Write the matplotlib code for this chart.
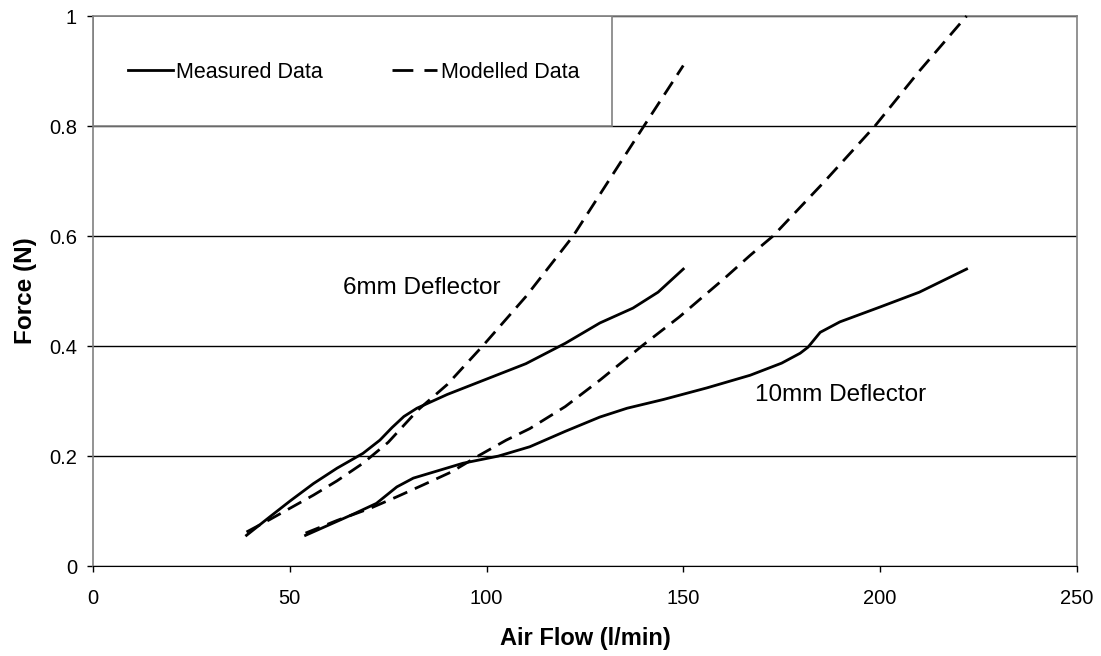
import matplotlib.pyplot as plt
from matplotlib.patches import Rectangle
from matplotlib.lines import Line2D

plt.rcParams['font.family'] = ['Liberation Sans', 'DejaVu Sans']

# 6mm deflector
x6_meas = [39, 45, 50, 56, 62, 68.6, 72.9, 76, 79, 82.3, 90, 100, 110, 120, 128.8, 137.2, 143.6, 150]
y6_meas = [0.056, 0.09, 0.118, 0.15, 0.178, 0.205, 0.229, 0.252, 0.272, 0.287, 0.312, 0.34, 0.368, 0.405, 0.442, 0.469, 0.498, 0.54]
x6_mod = [39, 45, 50, 56, 62, 68.6, 75, 82.6, 90, 99, 110, 122, 131, 140, 150]
y6_mod = [0.062, 0.085, 0.105, 0.129, 0.155, 0.187, 0.225, 0.284, 0.33, 0.4, 0.49, 0.6, 0.7, 0.8, 0.91]

# 10mm deflector
x10_meas = [54, 60, 66.6, 72, 77.2, 81.4, 87, 94, 103, 111, 120, 128.8, 135.7, 145, 156, 167, 175,
            179.7, 181.7, 184.8, 189.8, 200, 210, 222]
y10_meas = [0.056, 0.075, 0.096, 0.114, 0.144, 0.16, 0.172, 0.187, 0.2, 0.217, 0.245, 0.271, 0.287,
            0.303, 0.324, 0.347, 0.369, 0.387, 0.398, 0.425, 0.444, 0.471, 0.498, 0.54]
x10_mod = [54, 62, 70.4, 77.2, 84, 91, 98.3, 105, 111, 120, 128.8, 139.8, 149, 160.6, 167, 172.8,
           186, 198.7, 210, 222]
y10_mod = [0.06, 0.083, 0.105, 0.126, 0.148, 0.171, 0.202, 0.229, 0.25, 0.29, 0.338, 0.402, 0.453,
           0.524, 0.565, 0.6, 0.7, 0.8, 0.9, 1.0]

lw = 2.0
dash = (5.5, 3)

fig = plt.figure(figsize=(11.01, 6.56), dpi=100)
ax = fig.add_axes([0.0845, 0.137, 0.8935, 0.8386])

ax.plot(x6_meas, y6_meas, color='black', lw=lw, solid_joinstyle='round', clip_on=False, zorder=3)
ax.plot(x6_mod, y6_mod, color='black', lw=lw, dashes=dash, clip_on=False, zorder=3)
ax.plot(x10_meas, y10_meas, color='black', lw=lw, solid_joinstyle='round', clip_on=False, zorder=3)
ax.plot(x10_mod, y10_mod, color='black', lw=lw, dashes=dash, clip_on=False, zorder=3)

ax.set_xlim(0, 250)
ax.set_ylim(0, 1)
ax.set_xticks([0, 50, 100, 150, 200, 250])
ax.set_yticks([0, 0.2, 0.4, 0.6, 0.8, 1])
ax.set_yticklabels(['0', '0.2', '0.4', '0.6', '0.8', '1'])
ax.tick_params(labelsize=14.5, direction='out', length=4.5, width=1)
ax.tick_params(axis='x', pad=12)
ax.tick_params(axis='y', pad=7)
ax.yaxis.grid(True, color='black', lw=1)
ax.set_axisbelow(True)

for s in ['top', 'right', 'left']:
    ax.spines[s].set_color('#808080')
    ax.spines[s].set_linewidth(1.2)
ax.spines['bottom'].set_color('black')

ax.set_xlabel('Air Flow (l/min)', fontsize=17, fontweight='bold', labelpad=14)
ax.set_ylabel('Force (N)', fontsize=17.5, fontweight='bold', labelpad=9)

ax.text(63.5, 0.505, '6mm Deflector', fontsize=17.5, va='center', ha='left')
ax.text(168.2, 0.311, '10mm Deflector', fontsize=17.5, va='center', ha='left')

# legend box
ax.add_patch(Rectangle((0, 0.8), 0.528 * 250, 0.2, facecolor='white', edgecolor='#808080',
                       lw=1.2, zorder=2))
handles = [Line2D([], [], color='black', lw=lw),
           Line2D([], [], color='black', lw=lw, dashes=(7.5, 4))]
leg = ax.legend(handles, ['Measured Data', 'Modelled Data'], ncol=2, frameon=False,
                loc='center left', bbox_to_anchor=(0.0356, 0.898), borderaxespad=0, borderpad=0,
                fontsize=15.5, handlelength=2.1, handletextpad=0.15, columnspacing=3.2)
leg.set_zorder(4)

fig.savefig('out.png', dpi=100)
